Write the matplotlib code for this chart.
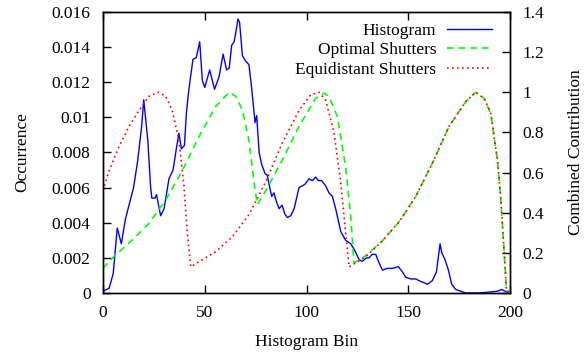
import matplotlib
matplotlib.use('Agg')
import matplotlib.pyplot as plt
from matplotlib.ticker import FormatStrFormatter

plt.rcParams['font.family'] = ['Liberation Serif', 'DejaVu Serif']
plt.rcParams['font.size'] = 12.5

# histogram (left axis)
hist_bin = [0, 3, 5, 7, 9, 11, 13, 15, 17, 19, 20, 22, 23.4, 24, 25.5, 26.3, 28.3, 30,
            32.4, 34.4, 36, 37.3, 38.5, 40, 41, 42, 43, 44.2, 45.8, 47.5, 48.8, 50,
            52.4, 54.8, 57, 59, 60.7, 62, 63.2, 64.4, 65.2, 66.3, 67.1, 68.5, 70.1,
            71.7, 73, 74.7, 75.5, 76.7, 78, 79.6, 80.7, 81.9, 82.9, 84, 85.2, 86.5,
            88, 89.3, 90.6, 92.2, 93.9, 96.3, 97.9, 99.3, 101.2, 102.9, 104.5, 105.8,
            107.4, 109.4, 111, 112.7, 114.5, 116.8, 119.2, 121.7, 123.8, 125.8, 127.4,
            129.4, 130.7, 132.3, 134, 135.3, 137.3, 139.7, 142.2, 145.1, 147.1, 148.7,
            151.2, 153.6, 155.3, 159.4, 161.8, 163.8, 164.8, 165.6, 166.4, 168, 169.7,
            171.3, 173.3, 175.8, 178.2, 185, 193.8, 195.9, 197.5, 200]
hist_val = [0.0001, 0.00027, 0.0011, 0.0037, 0.0028, 0.0042, 0.0051, 0.006, 0.0075,
            0.0095, 0.011, 0.0087, 0.006, 0.0054, 0.0054, 0.0056, 0.0044, 0.0048,
            0.0065, 0.007, 0.0082, 0.0091, 0.0082, 0.0084, 0.0103, 0.0114, 0.0123,
            0.0133, 0.0134, 0.0143, 0.0121, 0.0117, 0.0127, 0.0116, 0.0123, 0.0136,
            0.0127, 0.0128, 0.0141, 0.0143, 0.0148, 0.0156, 0.0154, 0.0135, 0.0132,
            0.013, 0.0117, 0.0097, 0.0101, 0.008, 0.0073, 0.0068, 0.0067, 0.006,
            0.0055, 0.0057, 0.0052, 0.0048, 0.005, 0.0045, 0.0043, 0.0044, 0.0048,
            0.006, 0.0061, 0.0062, 0.0065, 0.0064, 0.0066, 0.0064, 0.0064, 0.0061,
            0.0057, 0.0055, 0.0047, 0.0035, 0.003, 0.0028, 0.0024, 0.0019, 0.0018,
            0.002, 0.002, 0.0022, 0.0022, 0.0018, 0.0013, 0.0014, 0.0014, 0.0015,
            0.0012, 0.0009, 0.0008, 0.0008, 0.0007, 0.0005, 0.0007, 0.0012, 0.0021,
            0.0028, 0.0023, 0.0019, 0.0013, 0.0005, 0.0002, 0.0001, 0.0, 0.0,
            0.0001, 0.0002, 0.0001, 0.0]

# optimal shutters (right axis)
opt_bin = [0, 6.2, 14.4, 22.6, 30.8, 39, 47.2, 55.4, 62, 65.2, 68.5, 71.7, 74.2, 75.8,
           80, 88, 96.3, 104.5, 108.6, 111, 115.1, 119.2, 121.7, 123.3, 129, 137.3,
           145.5, 153.6, 161.8, 170, 178.2, 183.1, 187.2, 190.5, 193.8, 195.5, 197.1,
           198.2, 200]
opt_val = [0.123, 0.19, 0.264, 0.347, 0.463, 0.61, 0.78, 0.93, 1.0, 0.98, 0.91, 0.76,
           0.55, 0.44, 0.51, 0.66, 0.83, 0.97, 0.995, 0.98, 0.88, 0.63, 0.38, 0.15,
           0.185, 0.26, 0.355, 0.48, 0.646, 0.83, 0.953, 1.0, 0.97, 0.895, 0.66, 0.46,
           0.2, 0.015, 0.0]

# equidistant shutters (right axis)
equi_bin = [0, 3, 7.9, 12.8, 17.7, 22.6, 27.2, 30.8, 34, 37.3, 39.8, 41.4, 43.1, 47.2,
            55.4, 63.5, 71.7, 75.8, 80, 88, 96.3, 102, 106.1, 109.4, 113.5, 116.8,
            119.2, 120.9, 129, 137.3, 145.5, 153.6, 161.8, 170, 178.2, 183.1, 187.2,
            190.5, 193.8, 195.5, 197.1, 198.2, 200]
equi_val = [0.51, 0.61, 0.73, 0.83, 0.91, 0.98, 1.0, 0.98, 0.91, 0.76, 0.53, 0.30, 0.13,
            0.156, 0.206, 0.28, 0.39, 0.47, 0.555, 0.746, 0.91, 0.987, 1.0, 0.96, 0.80,
            0.55, 0.30, 0.13, 0.18, 0.26, 0.355, 0.48, 0.646, 0.83, 0.953, 1.0, 0.97,
            0.895, 0.66, 0.46, 0.2, 0.015, 0.0]

fig = plt.figure(figsize=(5.87, 3.58), dpi=100)
ax = fig.add_axes([0.1755, 0.1816, 0.6935, 0.785])
ax2 = ax.twinx()

l1, = ax.plot(hist_bin, hist_val, color='#0000ff', lw=1.0, label='Histogram')
l2, = ax2.plot(opt_bin, opt_val, color='#00ff00', lw=1.2, ls=(0, (4, 3)),
               label='Optimal Shutters')
l3, = ax2.plot(equi_bin, equi_val, color='#ff0000', lw=1.2, ls=(0, (1, 2)),
               label='Equidistant Shutters')

ax.set_xlim(0, 200)
ax.set_ylim(0, 0.016)
ax2.set_ylim(0, 1.4)
ax.set_xticks([0, 50, 100, 150, 200])
ax.set_yticks([0, 0.002, 0.004, 0.006, 0.008, 0.01, 0.012, 0.014, 0.016])
ax2.set_yticks([0, 0.2, 0.4, 0.6, 0.8, 1.0, 1.2, 1.4])
ax.yaxis.set_major_formatter(FormatStrFormatter('%g'))
ax2.yaxis.set_major_formatter(FormatStrFormatter('%g'))

ax.tick_params(axis='x', direction='in', length=6, width=1, top=True, pad=9)
ax.tick_params(axis='y', direction='in', length=6, width=1, pad=9)
ax2.tick_params(axis='y', direction='in', length=6, width=1, pad=9)
for a in (ax, ax2):
    for s in a.spines.values():
        s.set_linewidth(1.0)

ax.set_xlabel('Histogram Bin', labelpad=9)
ax.set_ylabel('Occurrence', labelpad=15)
ax2.set_ylabel('Combined Contribution', labelpad=17)

ax2.legend(handles=[l1, l2, l3], loc='upper right', bbox_to_anchor=(0.955, 0.962),
           frameon=False, markerfirst=False, handlelength=2.6, handletextpad=0.6,
           labelspacing=0.19, borderpad=0, borderaxespad=0)

fig.savefig('out.png', dpi=100)
